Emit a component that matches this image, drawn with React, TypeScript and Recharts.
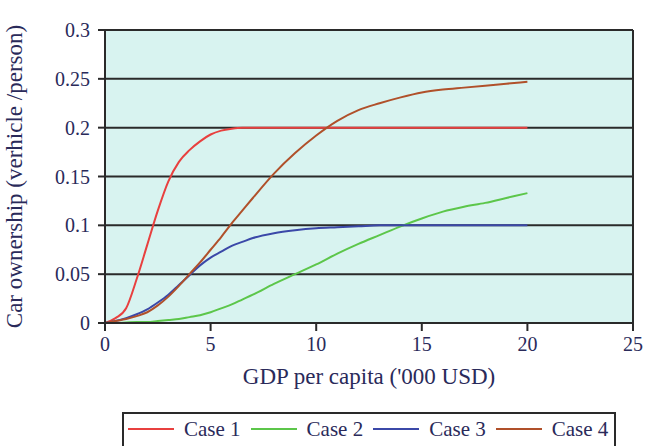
import React from "react";
import {
  LineChart,
  Line,
  XAxis,
  YAxis,
  CartesianGrid,
  Legend,
  ReferenceLine,
} from "recharts";

// GDP per capita ('000 USD)
const gdp = [0, 0.5, 1, 1.5, 2, 2.5, 3, 3.5, 4, 4.5, 5, 5.5, 6, 6.5, 7, 8, 9, 10, 11, 12, 13, 14, 15, 16, 17, 18, 19, 20];

// Car ownership (vehicle / person) per scenario
const case1 = [0, 0.005, 0.015, 0.045, 0.08, 0.115, 0.145, 0.165, 0.177, 0.186, 0.193, 0.197, 0.199, 0.2, 0.2, 0.2, 0.2, 0.2, 0.2, 0.2, 0.2, 0.2, 0.2, 0.2, 0.2, 0.2, 0.2, 0.2];
const case2 = [0, 0, 0.0005, 0.001, 0.001, 0.002, 0.003, 0.004, 0.006, 0.008, 0.011, 0.015, 0.019, 0.024, 0.029, 0.04, 0.05, 0.06, 0.071, 0.081, 0.09, 0.099, 0.107, 0.114, 0.119, 0.123, 0.128, 0.133];
const case3 = [0, 0.002, 0.005, 0.009, 0.014, 0.021, 0.029, 0.039, 0.049, 0.059, 0.067, 0.073, 0.079, 0.083, 0.087, 0.092, 0.095, 0.097, 0.098, 0.099, 0.1, 0.1, 0.1, 0.1, 0.1, 0.1, 0.1, 0.1];
const case4 = [0, 0.002, 0.004, 0.007, 0.011, 0.018, 0.027, 0.038, 0.05, 0.062, 0.075, 0.088, 0.102, 0.115, 0.128, 0.153, 0.174, 0.192, 0.207, 0.218, 0.225, 0.231, 0.236, 0.239, 0.241, 0.243, 0.245, 0.247];

const xTicks = [0, 5, 10, 15, 20, 25];
const yTicks = [0, 0.05, 0.1, 0.15, 0.2, 0.25, 0.3];

const seriesNames = ["Case 1", "Case 2", "Case 3", "Case 4"];
const seriesColors = ["#e8403f", "#5cc64a", "#3b48a8", "#b0502a"];

const data = gdp.map((g, i) => ({
  gdp: g,
  c1: case1[i],
  c2: case2[i],
  c3: case3[i],
  c4: case4[i],
}));

const FONT = "Times New Roman, Times, Liberation Serif, DejaVu Serif, serif";
const INK = "#2a2a2a";
const TEXT = "#2a2a5a";

const BoxedLegend = () => (
  <div
    style={{
      display: "flex",
      alignItems: "center",
      border: `2px solid ${INK}`,
      padding: "3px 6px 6px 4px",
      fontFamily: FONT,
      fontSize: 21,
      color: TEXT,
      background: "#fff",
      whiteSpace: "nowrap",
      lineHeight: "24px",
    }}
  >
    {seriesNames.map((name, i) => (
      <div key={name} style={{ display: "flex", alignItems: "center", marginRight: i < 3 ? 10 : 0 }}>
        <svg width={46} height={10} style={{ marginRight: 10 }}>
          <line x1={0} y1={5} x2={46} y2={5} stroke={seriesColors[i]} strokeWidth={2} />
        </svg>
        <span>{name}</span>
      </div>
    ))}
  </div>
);

export default function App() {
  return (
    <div style={{ position: "absolute", left: 0, top: 0, background: "#fff" }}>
      <LineChart
        width={645}
        height={446}
        data={data}
        margin={{ top: 30, right: 12, bottom: 0, left: 0 }}
      >
        <CartesianGrid
          vertical={false}
          horizontal
          stroke={INK}
          strokeWidth={2}
          fill="#d8f3f0"
          fillOpacity={1}
        />
        <XAxis
          dataKey="gdp"
          type="number"
          domain={[0, 25]}
          ticks={xTicks}
          height={86}
          stroke={INK}
          strokeWidth={2}
          tickSize={8}
          tickMargin={6}
          tick={{ fill: TEXT, fontFamily: FONT, fontSize: 20 }}
          label={{
            value: "GDP per capita ('000 USD)",
            position: "insideTop",
            offset: 45,
            style: { fill: TEXT, fontFamily: FONT, fontSize: 23 },
          }}
        />
        <YAxis
          type="number"
          domain={[0, 0.3]}
          ticks={yTicks}
          width={105}
          stroke={INK}
          strokeWidth={2}
          tickSize={7}
          tickMargin={8}
          tickFormatter={(v: number) => String(v)}
          tick={{ fill: TEXT, fontFamily: FONT, fontSize: 20 }}
          label={{
            value: "Car ownership (verhicle /person)",
            angle: -90,
            position: "insideLeft",
            offset: 14,
            style: { textAnchor: "middle", fill: TEXT, fontFamily: FONT, fontSize: 23 },
          }}
        />
        <ReferenceLine x={25} stroke={INK} strokeWidth={2} />
        <Legend
          content={<BoxedLegend />}
          wrapperStyle={{ position: "absolute", left: 122, top: 412, width: "auto" }}
        />
        <Line dataKey="c1" name="Case 1" type="monotone" stroke={seriesColors[0]} strokeWidth={2} dot={false} isAnimationActive={false} />
        <Line dataKey="c2" name="Case 2" type="monotone" stroke={seriesColors[1]} strokeWidth={2} dot={false} isAnimationActive={false} />
        <Line dataKey="c3" name="Case 3" type="monotone" stroke={seriesColors[2]} strokeWidth={2} dot={false} isAnimationActive={false} />
        <Line dataKey="c4" name="Case 4" type="monotone" stroke={seriesColors[3]} strokeWidth={2} dot={false} isAnimationActive={false} />
      </LineChart>
    </div>
  );
}
